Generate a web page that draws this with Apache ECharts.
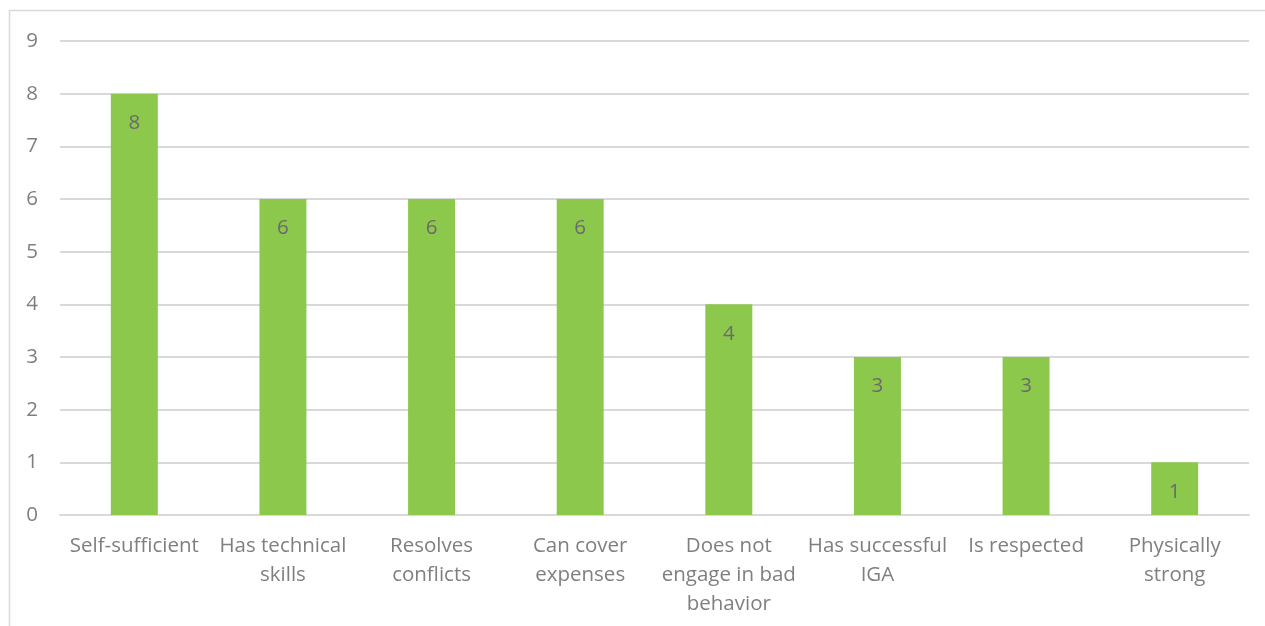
<!DOCTYPE html>
<html>
<head>
<meta charset="utf-8">
<script src="https://cdn.jsdelivr.net/npm/echarts@6/dist/echarts.min.js"></script>
<style>
html,body{margin:0;padding:0;background:#fff;}
#chart{width:1265px;height:626px;}
</style>
</head>
<body>
<div id="chart"></div>
<script>
const categories = ['Self-sufficient', 'Has technical\nskills', 'Resolves\nconflicts', 'Can cover\nexpenses', 'Does not\nengage in bad\nbehavior', 'Has successful\nIGA', 'Is respected', 'Physically\nstrong'];
const values = [8, 6, 6, 6, 4, 3, 3, 1];
const yTicks = [0, 1, 2, 3, 4, 5, 6, 7, 8, 9];

const chart = echarts.init(document.getElementById('chart'), null, {renderer: 'canvas'});
const font = '"Open Sans", "Noto Sans", sans-serif';
chart.setOption({
  animation: false,
  graphic: [{
    type: 'rect',
    shape: {x: 9.5, y: 10.5, width: 1270, height: 640},
    style: {fill: 'none', stroke: '#d9d9d9', lineWidth: 1.5},
    silent: true
  }],
  grid: {left: 60, right: 16, top: 41, bottom: 111, containLabel: false},
  xAxis: {
    type: 'category',
    data: categories,
    axisLine: {show: true, lineStyle: {color: '#d9d9d9', width: 2}},
    axisTick: {show: false},
    axisLabel: {color: '#7f7f7f', fontSize: 20.5, fontFamily: font, lineHeight: 29, margin: 17, interval: 0}
  },
  yAxis: {
    type: 'value',
    min: yTicks[0],
    max: yTicks[yTicks.length - 1],
    interval: 1,
    axisLine: {show: false},
    axisTick: {show: false},
    splitLine: {lineStyle: {color: '#d9d9d9', width: 2}},
    axisLabel: {color: '#7f7f7f', fontSize: 20.5, fontFamily: font, margin: 22}
  },
  series: [{
    type: 'bar',
    data: values,
    barWidth: '31.6%',
    itemStyle: {color: '#8cc84b'},
    label: {show: true, position: 'insideTop', distance: 19, color: '#6b6b6b', fontSize: 20.5, fontFamily: font}
  }]
});
</script>
</body>
</html>
